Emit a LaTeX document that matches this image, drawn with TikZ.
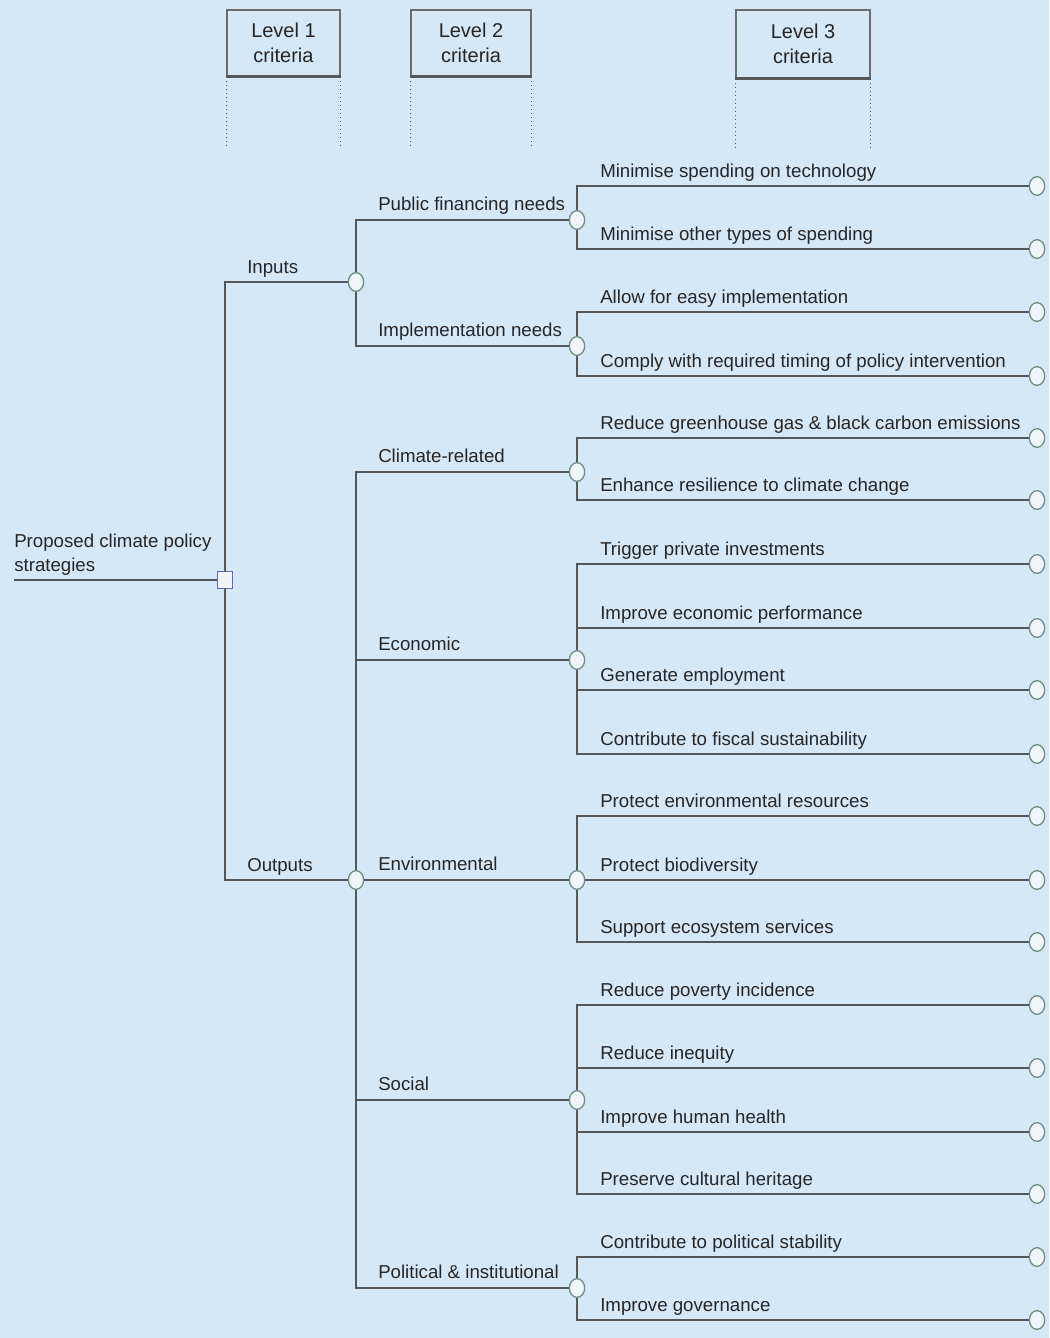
\documentclass[tikz,border=0pt]{standalone}
\usepackage{fontspec}
\setmainfont{Liberation Sans}
\usetikzlibrary{shapes.geometric}
\definecolor{bgblue}{HTML}{D5E8F8}
\definecolor{linegray}{HTML}{53585D}
\definecolor{ringgreen}{HTML}{6F8F84}
\definecolor{sqblue}{HTML}{6464A8}

\begin{document}
\begin{tikzpicture}[
    x=0.75pt, y=-0.75pt,
    every node/.style={font=\fontsize{14}{18}\selectfont, text=black!85},
    hdr/.style={rectangle, draw=gray!85!black, line width=1pt, fill=bgblue,
                align=center, font=\fontsize{15}{19}\selectfont, inner sep=0pt},
    txt/.style={anchor=base west, inner sep=0pt},
    jn/.style={ellipse, draw=ringgreen, line width=1pt, fill=bgblue!40!white,
               minimum width=11.5pt, minimum height=14pt, inner sep=0pt},
    sq/.style={rectangle, draw=sqblue, line width=1pt, fill=bgblue!40!white,
               minimum width=11.5pt, minimum height=13pt, inner sep=0pt},
    link/.style={draw=linegray, line width=1.8pt},
    guide/.style={draw=linegray, dash pattern=on 1.2pt off 1.8pt, line width=1.2pt}
]

\fill[bgblue] (0,0) rectangle (1049,1338);
\useasboundingbox (0,0) rectangle (1049,1338);

% column headers
\node[hdr, minimum width=84.75pt, minimum height=49.5pt] (h1) at (283.5,43) {Level 1\\criteria};
\node[hdr, minimum width=90pt, minimum height=49.5pt] (h2) at (471,43) {Level 2\\criteria};
\node[hdr, minimum width=100.5pt, minimum height=51pt] (h3) at (803,44) {Level 3\\criteria};
\coordinate (dotend) at (0,148);

\draw[link] (h1.south west) -- (h1.south east);
\draw[link] (h2.south west) -- (h2.south east);
\draw[link] (h3.south west) -- (h3.south east);
\draw[guide] (h1.south west) -- (h1.south west |- dotend);
\draw[guide] (h1.south east) -- (h1.south east |- dotend);
\draw[guide] (h2.south west) -- (h2.south west |- dotend);
\draw[guide] (h2.south east) -- (h2.south east |- dotend);
\draw[guide] (h3.south west) -- (h3.south west |- dotend);
\draw[guide] (h3.south east) -- (h3.south east |- dotend);

% goal
\node[sq] (root) at (225,580) {};
\coordinate (rootend) at (14,580);
\node[anchor=south west, inner sep=0pt, align=left] (rootlbl) at (14,576) {Proposed climate policy\\strategies};

% level 1
\node[jn] (in) at (356,282) {};
\node[jn] (out) at (356,880) {};
\node[txt] (inlbl) at (247,273) {Inputs};
\node[txt] (outlbl) at (247,871) {Outputs};

% level 2
\node[jn] (pf) at (577,220) {};
\node[jn] (im) at (577,346) {};
\node[jn] (cl) at (577,472) {};
\node[jn] (ec) at (577,660) {};
\node[jn] (en) at (577,880) {};
\node[jn] (so) at (577,1100) {};
\node[jn] (po) at (577,1288) {};
\node[txt] (pflbl) at (378,210) {Public financing needs};
\node[txt] (imlbl) at (378,336) {Implementation needs};
\node[txt] (cllbl) at (378,462) {Climate-related};
\node[txt] (eclbl) at (378,650) {Economic};
\node[txt] (enlbl) at (378,870) {Environmental};
\node[txt] (solbl) at (378,1090) {Social};
\node[txt] (polbl) at (378,1278) {Political \& institutional};

% level 3
\node[jn] (c1) at (1037,186) {};
\node[jn] (c2) at (1037,249) {};
\node[jn] (c3) at (1037,312) {};
\node[jn] (c4) at (1037,376) {};
\node[jn] (c5) at (1037,438) {};
\node[jn] (c6) at (1037,500) {};
\node[jn] (c7) at (1037,564) {};
\node[jn] (c8) at (1037,628) {};
\node[jn] (c9) at (1037,690) {};
\node[jn] (c10) at (1037,754) {};
\node[jn] (c11) at (1037,816) {};
\node[jn] (c12) at (1037,880) {};
\node[jn] (c13) at (1037,942) {};
\node[jn] (c14) at (1037,1005) {};
\node[jn] (c15) at (1037,1068) {};
\node[jn] (c16) at (1037,1132) {};
\node[jn] (c17) at (1037,1194) {};
\node[jn] (c18) at (1037,1257) {};
\node[jn] (c19) at (1037,1320) {};

\node[txt] (t1) at (600,177) {Minimise spending on technology};
\node[txt] (t2) at (600,240) {Minimise other types of spending};
\node[txt] (t3) at (600,303) {Allow for easy implementation};
\node[txt] (t4) at (600,367) {Comply with required timing of policy intervention};
\node[txt] (t5) at (600,429) {Reduce greenhouse gas \& black carbon emissions};
\node[txt] (t6) at (600,491) {Enhance resilience to climate change};
\node[txt] (t7) at (600,555) {Trigger private investments};
\node[txt] (t8) at (600,619) {Improve economic performance};
\node[txt] (t9) at (600,681) {Generate employment};
\node[txt] (t10) at (600,745) {Contribute to fiscal sustainability};
\node[txt] (t11) at (600,807) {Protect environmental resources};
\node[txt] (t12) at (600,871) {Protect biodiversity};
\node[txt] (t13) at (600,933) {Support ecosystem services};
\node[txt] (t14) at (600,996) {Reduce poverty incidence};
\node[txt] (t15) at (600,1059) {Reduce inequity};
\node[txt] (t16) at (600,1123) {Improve human health};
\node[txt] (t17) at (600,1185) {Preserve cultural heritage};
\node[txt] (t18) at (600,1248) {Contribute to political stability};
\node[txt] (t19) at (600,1311) {Improve governance};

% connectors
\draw[link] (rootend) -- (root);
\draw[link] (root) |- (in);
\draw[link] (root) |- (out);

\draw[link] (in) |- (pf);
\draw[link] (in) |- (im);
\draw[link] (out) |- (cl);
\draw[link] (out) |- (ec);
\draw[link] (out) -- (en);
\draw[link] (out) |- (so);
\draw[link] (out) |- (po);

\draw[link] (pf) |- (c1);
\draw[link] (pf) |- (c2);
\draw[link] (im) |- (c3);
\draw[link] (im) |- (c4);
\draw[link] (cl) |- (c5);
\draw[link] (cl) |- (c6);
\draw[link] (ec) |- (c7);
\draw[link] (ec) |- (c8);
\draw[link] (ec) |- (c9);
\draw[link] (ec) |- (c10);
\draw[link] (en) |- (c11);
\draw[link] (en) -- (c12);
\draw[link] (en) |- (c13);
\draw[link] (so) |- (c14);
\draw[link] (so) |- (c15);
\draw[link] (so) |- (c16);
\draw[link] (so) |- (c17);
\draw[link] (po) |- (c18);
\draw[link] (po) |- (c19);

\end{tikzpicture}
\end{document}
